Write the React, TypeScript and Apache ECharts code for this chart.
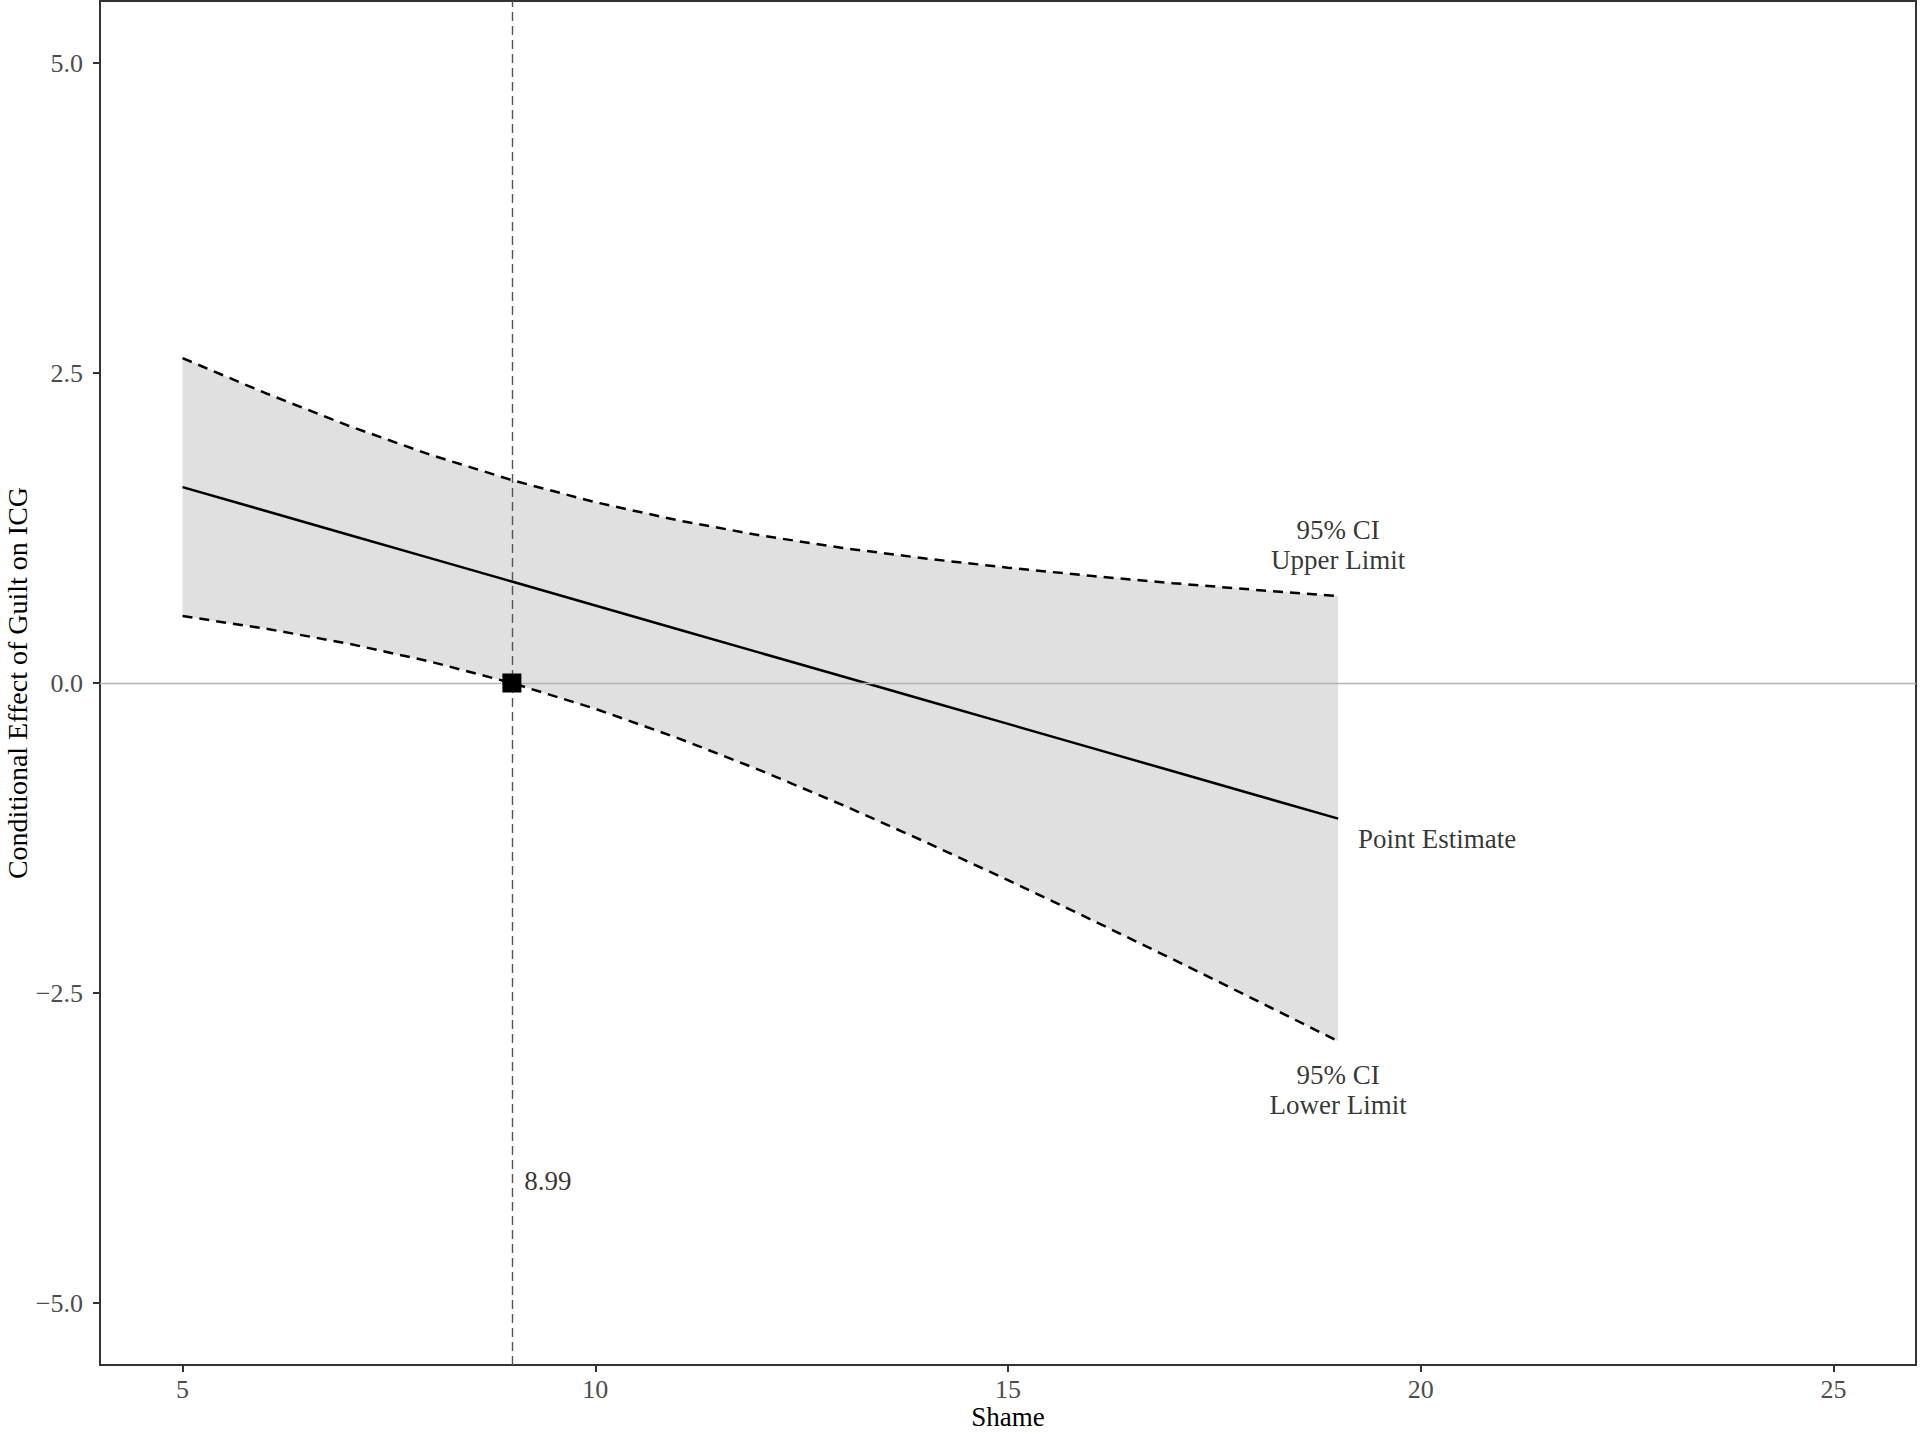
import React, { useEffect, useRef } from "react";
import * as echarts from "echarts";

// Shame values
const shameX = [5, 6, 7, 8, 9, 10, 11, 12, 13, 14, 15, 16, 17, 18, 19];
// Point estimate of conditional effect
const estimate = [1.58, 1.389, 1.198, 1.007, 0.816, 0.625, 0.434, 0.243, 0.052, -0.139, -0.33, -0.521, -0.712, -0.903, -1.094];
// 95% CI upper limit
const upperCI = [2.62, 2.339, 2.077, 1.841, 1.634, 1.458, 1.312, 1.19, 1.089, 1.004, 0.93, 0.864, 0.805, 0.751, 0.701];
// 95% CI lower limit
const lowerCI = [0.54, 0.439, 0.319, 0.173, -0.002, -0.208, -0.444, -0.704, -0.985, -1.282, -1.59, -1.906, -2.229, -2.557, -2.889];

const jnPoint = 8.99;
const xTicks = [5, 10, 15, 20, 25];
const yTicks = [-5, -2.5, 0, 2.5, 5];

const annotations = [
  { x: 19, y: 1.11, text: "95% CI\nUpper Limit", align: "center" },
  { x: 19, y: -3.28, text: "95% CI\nLower Limit", align: "center" },
  { x: 19.24, y: -1.26, text: "Point Estimate", align: "left" },
  { x: 9.14, y: -4.02, text: "8.99", align: "left" },
];

const FONT = "Liberation Serif";

export default function App() {
  const ref = useRef<HTMLDivElement>(null);

  useEffect(() => {
    if (!ref.current) return;
    const chart = echarts.init(ref.current, null, { renderer: "svg" });
    const fmtY = (v: number) => {
      const s = v.toFixed(1);
      return v < 0 ? "\u2212" + s.slice(1) : s;
    };
    chart.setOption({
      animation: false,
      backgroundColor: "#ffffff",
      grid: {
        left: 100,
        right: 4,
        top: 1,
        bottom: 68,
        containLabel: false,
        outerBoundsMode: "none",
        show: true,
        borderColor: "#333333",
        borderWidth: 2,
        backgroundColor: "transparent",
      },
      xAxis: {
        type: "value",
        min: 4,
        max: 26,
        name: "Shame",
        nameLocation: "middle",
        nameGap: 38,
        nameMoveOverlap: false,
        nameTextStyle: { fontFamily: FONT, fontSize: 27, lineHeight: 27, color: "#000" },
        axisLine: { show: true, onZero: false, lineStyle: { color: "#333333", width: 2 } },
        axisTick: { show: true, length: 7, customValues: xTicks, lineStyle: { color: "#333333", width: 2 } },
        axisLabel: {
          customValues: xTicks,
          margin: 11,
          fontFamily: FONT,
          fontSize: 26,
          lineHeight: 26,
          color: "#4d4d4d",
        },
        splitLine: { show: false },
      },
      yAxis: {
        type: "value",
        min: -5.5,
        max: 5.5,
        name: "Conditional Effect of Guilt on ICG",
        nameLocation: "middle",
        nameGap: 69,
        nameMoveOverlap: false,
        nameTextStyle: { fontFamily: FONT, fontSize: 28, lineHeight: 28, color: "#000" },
        axisLine: { show: true, onZero: false, lineStyle: { color: "#333333", width: 2 } },
        axisTick: { show: true, length: 7, customValues: yTicks, lineStyle: { color: "#333333", width: 2 } },
        axisLabel: {
          customValues: yTicks,
          margin: 17,
          fontFamily: FONT,
          fontSize: 26,
          color: "#4d4d4d",
          formatter: (v: number) => fmtY(v),
        },
        splitLine: { show: false },
      },
      series: [
        {
          type: "custom",
          name: "ribbon",
          z: 1,
          silent: true,
          data: shameX.map((x, i) => [x, lowerCI[i], upperCI[i]]),
          encode: { x: 0, y: [1, 2] },
          renderItem: (params: any, api: any) => {
            if (params.dataIndex !== 0) return null;
            const pts: number[][] = [];
            for (let i = 0; i < shameX.length; i++) pts.push(api.coord([shameX[i], upperCI[i]]));
            for (let i = shameX.length - 1; i >= 0; i--) pts.push(api.coord([shameX[i], lowerCI[i]]));
            return { type: "polygon", shape: { points: pts }, style: { fill: "#e0e0e0" } };
          },
        },
        {
          type: "line",
          name: "zero",
          z: 2,
          data: [],
          silent: true,
          markLine: {
            silent: true,
            symbol: "none",
            label: { show: false },
            lineStyle: { color: "#b3b3b3", width: 1.3, type: "solid" },
            data: [{ yAxis: 0 }],
          },
        },
        {
          type: "line",
          name: "upper",
          z: 3,
          showSymbol: false,
          silent: true,
          data: shameX.map((x, i) => [x, upperCI[i]]),
          lineStyle: { color: "#000", width: 2.5, type: [10, 7] },
        },
        {
          type: "line",
          name: "lower",
          z: 3,
          showSymbol: false,
          silent: true,
          data: shameX.map((x, i) => [x, lowerCI[i]]),
          lineStyle: { color: "#000", width: 2.5, type: [10, 7] },
        },
        {
          type: "line",
          name: "estimate",
          z: 3,
          showSymbol: false,
          silent: true,
          data: shameX.map((x, i) => [x, estimate[i]]),
          lineStyle: { color: "#000", width: 2.5, type: "solid" },
        },
        {
          type: "line",
          name: "jn",
          z: 4,
          data: [],
          silent: true,
          markLine: {
            silent: true,
            symbol: "none",
            label: { show: false },
            lineStyle: { color: "#555555", width: 1.4, type: [9, 5] },
            data: [{ xAxis: jnPoint }],
          },
        },
        {
          type: "scatter",
          name: "jnpoint",
          z: 10,
          silent: true,
          symbol: "rect",
          symbolSize: 19,
          itemStyle: { color: "#000", opacity: 1 },
          data: [[jnPoint, 0]],
        },
        {
          type: "scatter",
          name: "labels",
          z: 6,
          silent: true,
          symbolSize: 0,
          data: annotations.map((a) => ({
            value: [a.x, a.y],
            label: {
              show: true,
              position: "inside",
              formatter: a.text,
              align: a.align,
              verticalAlign: "middle",
              fontFamily: FONT,
              fontSize: 27,
              lineHeight: 30,
              color: "#000",
            },
          })),
        },
      ],
    });
    return () => chart.dispose();
  }, []);

  return (
    <div
      ref={ref}
      style={{ position: "fixed", left: 0, top: 0, width: 1920, height: 1433, background: "#fff" }}
    />
  );
}
